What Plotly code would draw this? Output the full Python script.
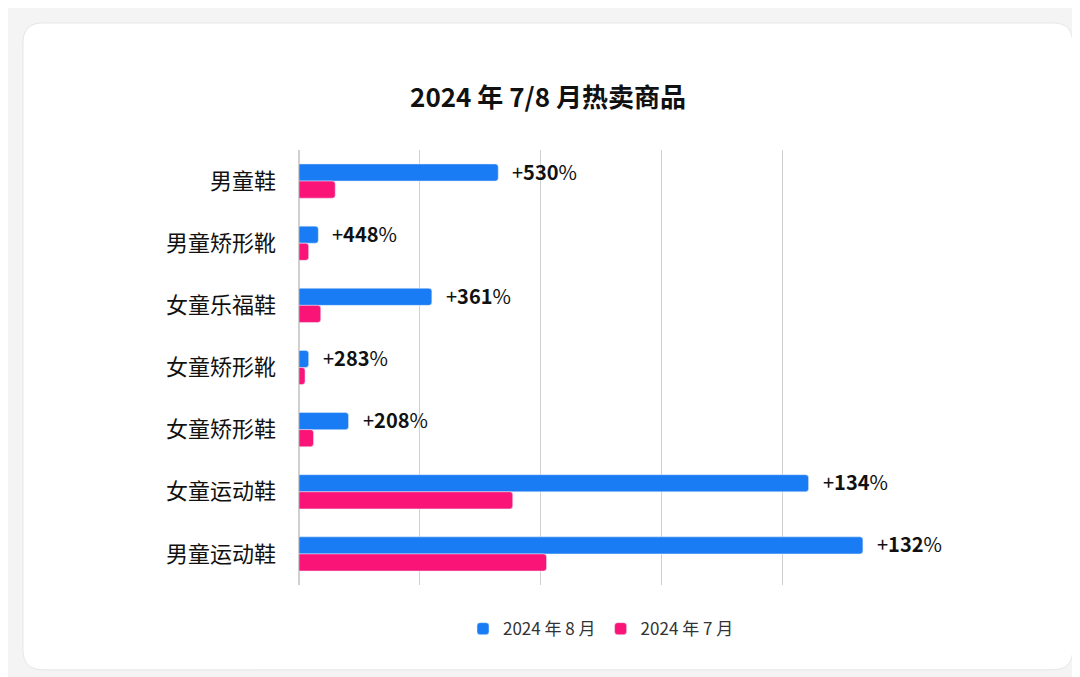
import plotly.graph_objects as go

# categories, top to bottom
categories = ["男童鞋", "男童矫形靴", "女童乐福鞋", "女童矫形靴", "女童矫形鞋", "女童运动鞋", "男童运动鞋"]
aug_values = [1.65, 0.16, 1.10, 0.08, 0.41, 4.22, 4.67]
jul_values = [0.30, 0.08, 0.18, 0.05, 0.12, 1.77, 2.05]
growth = ["530", "448", "361", "283", "208", "134", "132"]

blue = "#1a7cf5"
pink = "#fa1478"

fig = go.Figure()
fig.add_trace(go.Bar(y=categories, x=aug_values, orientation="h", name="2024 年 8 月",
                     marker=dict(color=blue, cornerradius=3)))
fig.add_trace(go.Bar(y=categories, x=jul_values, orientation="h", name="2024 年 7 月",
                     marker=dict(color=pink, cornerradius=3)))

# growth labels after the blue bars
for cat, val, g in zip(categories, aug_values, growth):
    fig.add_annotation(x=val, y=cat, text="+<b>" + g + "</b>%", showarrow=False,
                       xanchor="left", xshift=12, yshift=10,
                       font=dict(size=20, color="#111111"))

# white rounded card on a light grey page (paper coords = plot area)
L, R, T, B = -0.457, 1.281, 1.292, -0.195
rx, ry = 0.033, 0.046
card = (f"M {L+rx} {T} L {R-rx} {T} Q {R} {T} {R} {T-ry} L {R} {B+ry} "
        f"Q {R} {B} {R-rx} {B} L {L+rx} {B} Q {L} {B} {L} {B+ry} "
        f"L {L} {T-ry} Q {L} {T} {L+rx} {T} Z")
fig.add_shape(type="path", xref="paper", yref="paper", layer="below", path=card,
              fillcolor="white", line=dict(color="#e6e6e6", width=1))

fig.update_layout(
    width=1080, height=677,
    paper_bgcolor="#f4f4f4", plot_bgcolor="white",
    margin=dict(l=291, r=185, t=142, b=100),
    title=dict(text="<b>2024 年 7/8 月热卖商品</b>", x=0.5, xanchor="center", y=0.88,
               font=dict(size=26, color="#111111")),
    font=dict(family="Noto Sans CJK SC", color="#222222"),
    barmode="group", bargap=0.45, bargroupgap=0,
    showlegend=True,
    legend=dict(orientation="h", x=0.5, xanchor="center", y=-0.06, yanchor="top",
                font=dict(size=17, color="#333333"), bgcolor="rgba(0,0,0,0)"),
)
fig.update_xaxes(range=[0, 5.002], dtick=1, showticklabels=False, showgrid=True,
                 gridcolor="#d0d0d0", zeroline=True, zerolinecolor="#d0d0d0",
                 showline=False, automargin=False)
fig.update_yaxes(autorange="reversed", tickfont=dict(size=22, color="#111111"),
                 ticks="", ticklabelstandoff=22, showgrid=False, automargin=False)

fig.write_html("out.html")
